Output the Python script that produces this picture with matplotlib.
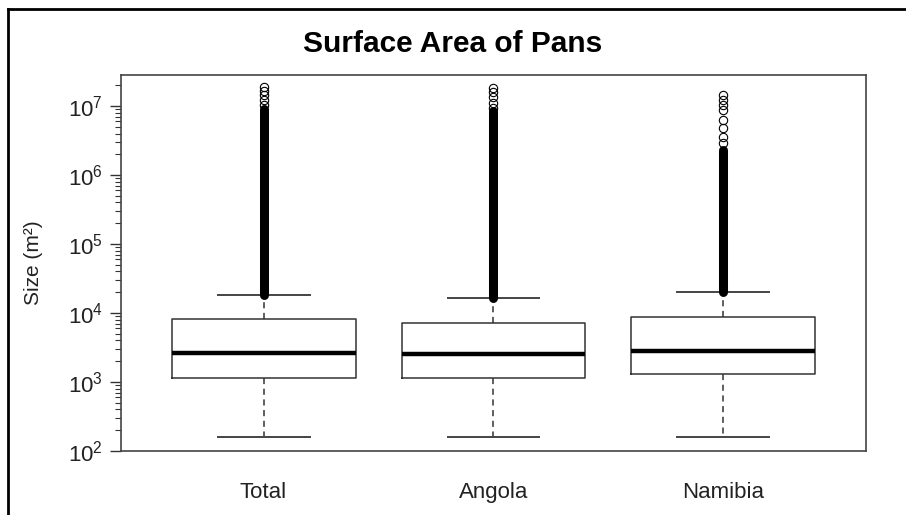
import matplotlib
matplotlib.use("Agg")
import matplotlib.pyplot as plt
from matplotlib.lines import Line2D
from matplotlib.ticker import LogLocator, LogFormatterMathtext, NullFormatter

plt.rcParams['font.family'] = ['Liberation Sans', 'DejaVu Sans']
plt.rcParams['mathtext.fontset'] = 'custom'
plt.rcParams['mathtext.rm'] = 'Liberation Sans'
plt.rcParams['mathtext.it'] = 'Liberation Sans:italic'
plt.rcParams['mathtext.bf'] = 'Liberation Sans:bold'

# box statistics per region (m²)
regions = ['Total', 'Angola', 'Namibia']
whisker_low = [160, 160, 160]
q1 = [1140, 1140, 1300]
median = [2630, 2550, 2800]
q3 = [8190, 7160, 8700]
whisker_high = [18200, 16500, 20000]

# outliers: a dense run from the whisker end upward, then sparse points
dense_top = [9.0e6, 8.5e6, 2.3e6]
sparse_outliers = [
    [1.88e7, 1.65e7, 1.44e7, 1.22e7, 1.03e7],
    [1.85e7, 1.60e7, 1.35e7, 1.10e7, 9.5e6],
    [1.44e7, 1.22e7, 1.03e7, 8.75e6, 6.27e6, 4.8e6, 3.56e6, 2.91e6],
]

fig = plt.figure(figsize=(9.06, 5.15), dpi=100)
W, H = 906, 515
ax = fig.add_axes([121 / W, 1 - 451 / H, 745 / W, 376 / H])

stats = []
for i, name in enumerate(regions):
    stats.append(dict(label=name, whislo=whisker_low[i], q1=q1[i], med=median[i],
                      q3=q3[i], whishi=whisker_high[i], fliers=sparse_outliers[i]))

positions = [1, 2, 3]
ax.bxp(stats, positions=positions, widths=0.8, showfliers=True,
       boxprops=dict(color='#333333', linewidth=1.1),
       medianprops=dict(color='black', linewidth=3.2, solid_capstyle='butt'),
       whiskerprops=dict(color='#333333', linewidth=1.1, linestyle=(0, (4, 3))),
       capprops=dict(color='#444444', linewidth=1.4),
       capwidths=0.4,
       flierprops=dict(marker='o', markersize=6, markerfacecolor='none',
                       markeredgecolor='black', markeredgewidth=0.8))

# dense outlier runs drawn as one solid column
for pos, lo, hi in zip(positions, whisker_high, dense_top):
    ax.plot([pos, pos], [lo, hi], color='black', linewidth=6.5,
            solid_capstyle='round', zorder=3)

ax.set_yscale('log')
ax.set_ylim(10 ** 2.0, 10 ** 7.45)
ax.set_xlim(0.38, 3.62)

ax.yaxis.set_major_locator(LogLocator(base=10, numticks=10))
ax.yaxis.set_major_formatter(LogFormatterMathtext())
ax.yaxis.set_minor_locator(LogLocator(base=10, subs=range(2, 10), numticks=10))
ax.yaxis.set_minor_formatter(NullFormatter())
ax.tick_params(axis='y', which='major', length=8, width=1, color='#333333',
               labelsize=16, labelcolor='#222222', pad=5)
ax.tick_params(axis='y', which='minor', length=4.5, width=0.8, color='#333333')

ax.set_xticks(positions)
ax.set_xticklabels(regions)
ax.tick_params(axis='x', length=0, labelsize=16, labelcolor='#222222', pad=22)

for sp in ax.spines.values():
    sp.set_color('#444444')
    sp.set_linewidth(1.2)

ax.set_ylabel('Size (m²)', fontsize=15, color='#222222')
ax.yaxis.set_label_coords((43 - 121) / 745, 0.5)

fig.text(0.5, 1 - 44 / H, 'Surface Area of Pans', ha='center', va='center',
         fontsize=21.5, fontweight='bold')

# outer frame along the top and left edges
fig.add_artist(Line2D([8 / W, 1], [1 - 8.5 / H, 1 - 8.5 / H], color='black',
                      linewidth=2, transform=fig.transFigure))
fig.add_artist(Line2D([8 / W, 8 / W], [0, 1 - 8.5 / H], color='black',
                      linewidth=2, transform=fig.transFigure))

fig.savefig('out.png', dpi=100)
